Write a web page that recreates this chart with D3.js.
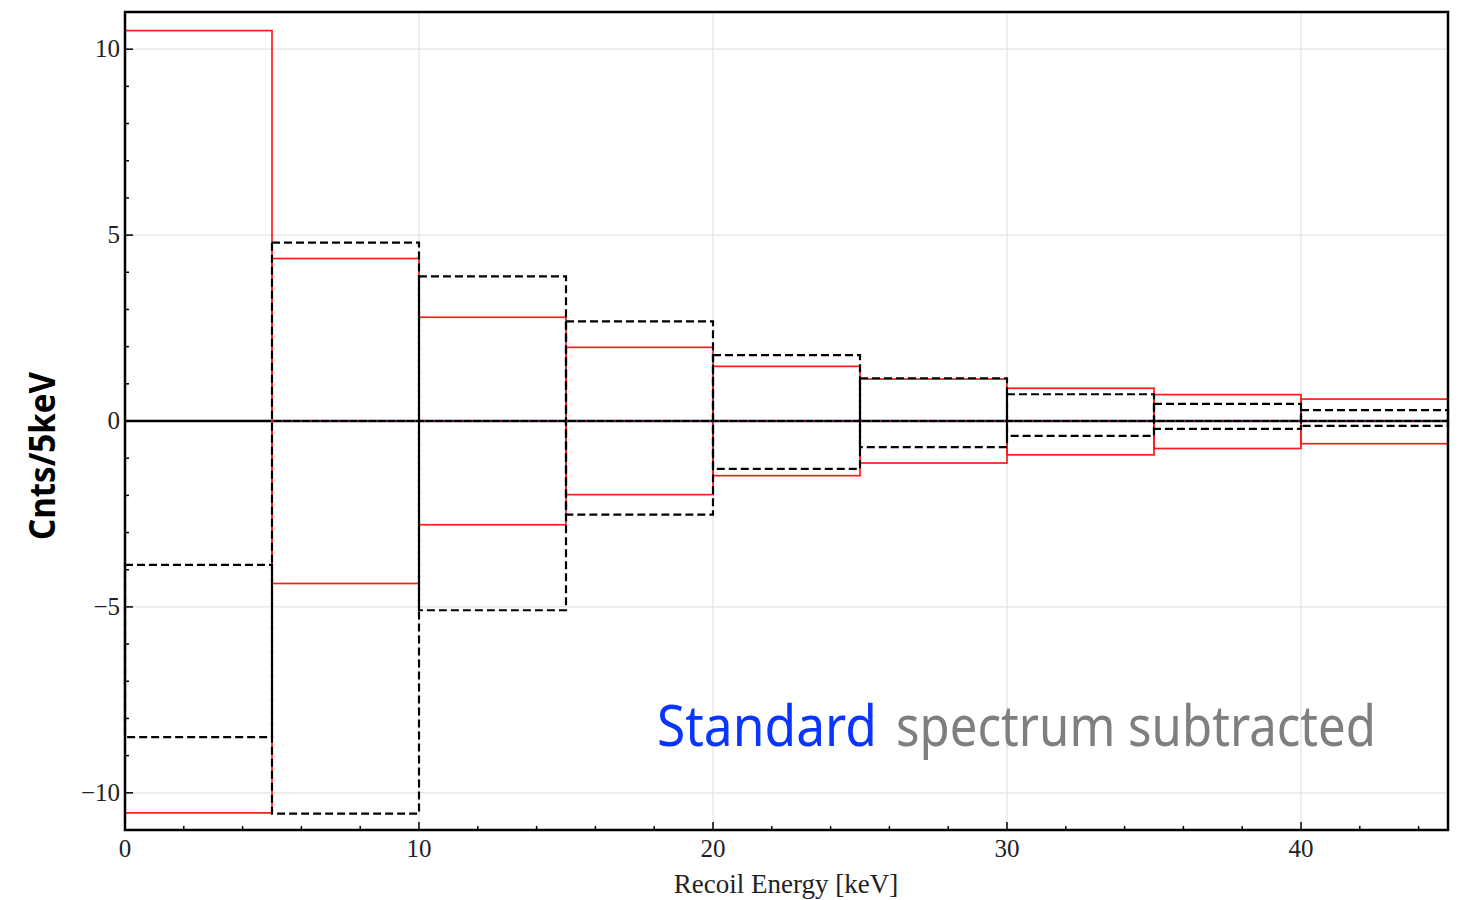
<!DOCTYPE html>
<html><head><meta charset="utf-8">
<script src="https://cdn.jsdelivr.net/npm/d3@7"></script>
<style>body{margin:0;background:#fff}</style>
</head><body>
<svg id="c" width="1463" height="900"></svg>
<script>
// Bin edges (keV)
const binStarts = [0, 5, 10, 15, 20, 25, 30, 35, 40];
const binWidth = 5;
// Red band (upper / lower)
const redUpper = [10.5, 4.37, 2.79, 1.98, 1.47, 1.13, 0.88, 0.71, 0.59];
const redLower = [-10.54, -4.37, -2.79, -1.98, -1.47, -1.13, -0.91, -0.74, -0.61];
// Black dashed band (upper / lower)
const dashUpper = [-3.87, 4.8, 3.89, 2.68, 1.77, 1.15, 0.72, 0.46, 0.29];
const dashLower = [-8.5, -10.56, -5.09, -2.52, -1.29, -0.70, -0.40, -0.21, -0.13];
const xTicks = [0, 10, 20, 30, 40];
const yTicks = [-10, -5, 0, 5, 10];

const svg = d3.select("#c");
const L = 125, R = 1448, T = 12, B = 830;
const x = d3.scaleLinear().domain([0, 45]).range([L, R]);
const y = d3.scaleLinear().domain([-11, 11]).range([B, T]);

// grid
const g = svg.append("g");
g.selectAll(".gx").data(xTicks.filter(d => d > 0)).enter().append("line")
  .attr("x1", d => x(d)).attr("x2", d => x(d)).attr("y1", T).attr("y2", B)
  .attr("stroke", "#e3e3e3").attr("stroke-width", 1.2);
g.selectAll(".gy").data(yTicks.filter(d => d !== 0)).enter().append("line")
  .attr("y1", d => y(d)).attr("y2", d => y(d)).attr("x1", L).attr("x2", R)
  .attr("stroke", "#e3e3e3").attr("stroke-width", 1.2);

const bins = binStarts.map((s, i) => ({s, e: s + binWidth, ru: redUpper[i], rl: redLower[i], du: dashUpper[i], dl: dashLower[i]}));

// zero line
svg.append("line").attr("x1", L).attr("x2", R).attr("y1", y(0)).attr("y2", y(0))
  .attr("stroke", "#000").attr("stroke-width", 2.6);

// red rectangles
svg.selectAll(".red").data(bins).enter().append("rect")
  .attr("x", d => x(d.s)).attr("width", d => x(d.e) - x(d.s))
  .attr("y", d => y(d.ru)).attr("height", d => y(d.rl) - y(d.ru))
  .attr("fill", "none").attr("stroke", "#ff1a1a").attr("stroke-width", 1.7);

// dashed rectangles
svg.selectAll(".dash").data(bins).enter().append("rect")
  .attr("x", d => x(d.s)).attr("width", d => x(d.e) - x(d.s))
  .attr("y", d => y(Math.max(d.du, d.dl))).attr("height", d => Math.abs(y(d.dl) - y(d.du)))
  .attr("fill", "none").attr("stroke", "#000").attr("stroke-width", 2.2)
  .attr("stroke-dasharray", "8,4");

// magenta dotted on zero line
svg.append("line").attr("x1", x(5)).attr("x2", R).attr("y1", y(0)).attr("y2", y(0))
  .attr("stroke", "#a0208a").attr("stroke-width", 1.5).attr("stroke-dasharray", "1.5,8");

// frame
svg.append("rect").attr("x", L).attr("y", T).attr("width", R - L).attr("height", B - T)
  .attr("fill", "none").attr("stroke", "#000").attr("stroke-width", 2.5);

// ticks (bottom and left only, inward)
const xMinor = d3.range(0, 46, 2).filter(d => d % 10 !== 0);
const yMinor = d3.range(-11, 12, 1).filter(d => d % 5 !== 0);
const tk = svg.append("g").attr("stroke", "#000");
xTicks.forEach(d => {
  tk.append("line").attr("x1", x(d)).attr("x2", x(d)).attr("y1", B).attr("y2", B - 8).attr("stroke-width", 1.5);
});
xMinor.forEach(d => {
  tk.append("line").attr("x1", x(d)).attr("x2", x(d)).attr("y1", B).attr("y2", B - 4).attr("stroke-width", 1.5);
});
yTicks.forEach(d => {
  tk.append("line").attr("y1", y(d)).attr("y2", y(d)).attr("x1", L).attr("x2", L + 8).attr("stroke-width", 1.5);
});
yMinor.forEach(d => {
  tk.append("line").attr("y1", y(d)).attr("y2", y(d)).attr("x1", L).attr("x2", L + 4).attr("stroke-width", 1.5);
});

// tick labels
const fmt = d => (d < 0 ? "\u2212" + Math.abs(d) : String(d));
svg.selectAll(".xl").data(xTicks).enter().append("text")
  .attr("x", d => x(d)).attr("y", 857).attr("text-anchor", "middle")
  .attr("font-family", "Liberation Serif, Times New Roman, serif").attr("font-size", 25)
  .attr("fill", "#222").text(fmt);
svg.selectAll(".yl").data(yTicks).enter().append("text")
  .attr("x", 120).attr("y", d => y(d) + 8).attr("text-anchor", "end")
  .attr("font-family", "Liberation Serif, Times New Roman, serif").attr("font-size", 25)
  .attr("fill", "#222").text(fmt);

// axis titles
svg.append("text").attr("x", 786).attr("y", 893).attr("text-anchor", "middle")
  .attr("font-family", "Liberation Serif, Times New Roman, serif").attr("font-size", 27)
  .attr("fill", "#222").text("Recoil Energy [keV]");
svg.append("text").attr("transform", "translate(55,456) rotate(-90)").attr("text-anchor", "middle")
  .attr("font-family", "Noto Sans, DejaVu Sans, sans-serif").attr("font-weight", "bold").attr("font-size", 36)
  .attr("textLength", 168).attr("lengthAdjust", "spacingAndGlyphs")
  .attr("fill", "#000").text("Cnts/5keV");

// annotation
svg.append("text").attr("x", 657).attr("y", 746)
  .attr("font-family", "Noto Sans, DejaVu Sans, sans-serif").attr("font-size", 57)
  .attr("textLength", 220).attr("lengthAdjust", "spacingAndGlyphs")
  .attr("fill", "#0a35ff").text("Standard");
svg.append("text").attr("x", 896).attr("y", 746)
  .attr("font-family", "Noto Sans, DejaVu Sans, sans-serif").attr("font-size", 57)
  .attr("textLength", 480).attr("lengthAdjust", "spacingAndGlyphs")
  .attr("fill", "#7f7f7f").text("spectrum subtracted");
</script>
</body></html>
